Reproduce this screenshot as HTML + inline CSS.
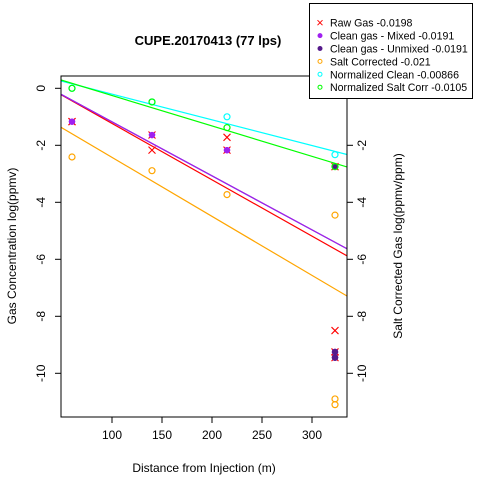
<!DOCTYPE html>
<html><head><meta charset="utf-8"><style>
body{margin:0;background:#fff}
svg{display:block;font-family:"Liberation Sans",Arial,sans-serif}
</style></head><body>
<svg id="c" width="480" height="480"></svg>
<script>
const distances=[60,60,140,140,215,215,323,323,323,323];
const rawGas=[-1.17,-1.17,-1.64,-2.17,-1.72,-2.17,-2.75,-8.5,-9.25,-9.45];
const cleanMixed=[-1.17,-1.17,-1.64,-1.64,-2.17,-2.17,-2.75,-9.25,-9.25,-9.45];
const cleanUnmixed=[-1.17,-1.17,-1.64,-1.64,-2.17,-2.17,-2.75,-9.25,-9.45,-9.45];
const saltDist=[60,140,215,323,323,323];
const saltCorrected=[-2.41,-2.89,-3.73,-4.45,-10.9,-11.1];
const normDist=[60,140,215,323];
const normClean=[0.0,-0.48,-1.0,-2.33];
const normSalt=[0.0,-0.48,-1.38,-2.75];
const fitIntercepts=[0.744,0.718,0.718,-0.354,0.698,0.814];
const fitSlopes=[-0.01977,-0.01895,-0.01895,-0.0207,-0.00902,-0.01067];
const xTicks=[100,150,200,250,300];
const yTicks=[0,-2,-4,-6,-8,-10];
const yTicksRight=[-2,-4,-6,-8,-10];
const legendLabels=["Raw Gas -0.0198","Clean gas - Mixed -0.0191","Clean gas - Unmixed -0.0191","Salt Corrected -0.021","Normalized Clean -0.00866","Normalized Salt Corr -0.0105"];
const colors=["#ff0000","#a020f0","#551a8b","#ffa500","#00ffff","#00ff00"];

const L=61,R=347,T=76,B=417;
const xs=v=>12+v;
const ys=v=>88.3-28.5*v;
const svg=document.getElementById('c');
const NS="http://www.w3.org/2000/svg";
function mk(t,a,p){const e=document.createElementNS(NS,t);for(const k in a)e.setAttribute(k,a[k]);(p||svg).appendChild(e);return e;}
function txt(s,a){const e=mk('text',a);e.textContent=s;return e;}

const clip=mk('clipPath',{id:'pc'});mk('rect',{x:L,y:T,width:R-L,height:B-T},clip);

const gl=mk('g',{'clip-path':'url(#pc)'});

[0,2,1,3,4,5].forEach(i=>{
  const a=fitIntercepts[i];
  const x0=49,x1=335;
  const l=mk('line',{x1:xs(x0),y1:ys(a+fitSlopes[i]*x0),x2:xs(x1),y2:ys(a+fitSlopes[i]*x1),stroke:colors[i],'stroke-width':1.2},gl);
  
  
});

function cross(x,y,c,name){const g=mk('g',{stroke:c,'stroke-width':1.1});
  
  mk('line',{x1:x-3.5,y1:y-3.5,x2:x+3.5,y2:y+3.5},g);mk('line',{x1:x-3.5,y1:y+3.5,x2:x+3.5,y2:y-3.5},g);}
function dot(x,y,c,name){const e=mk('circle',{cx:x,cy:y,r:3.2,fill:c});}
function ring(x,y,c,name){const e=mk('circle',{cx:x,cy:y,r:3,fill:'none',stroke:c,'stroke-width':1.2});}

distances.forEach((d,i)=>cross(xs(d),ys(rawGas[i]),colors[0],'raw-gas-point'));
distances.forEach((d,i)=>dot(xs(d),ys(cleanMixed[i]),colors[1],'clean-mixed-point'));
distances.forEach((d,i)=>{if(d>300)dot(xs(d),ys(cleanUnmixed[i]),colors[2],'clean-unmixed-point');});
saltDist.forEach((d,i)=>ring(xs(d),ys(saltCorrected[i]),colors[3],'salt-corrected-point'));
normDist.forEach((d,i)=>ring(xs(d),ys(normClean[i]),colors[4],'normalized-clean-point'));
normDist.forEach((d,i)=>ring(xs(d),ys(normSalt[i]),colors[5],'normalized-salt-point'));

const box=mk('rect',{x:L,y:T,width:R-L,height:B-T,fill:'none',stroke:'#000','stroke-width':1});


xTicks.forEach(v=>{mk('line',{x1:xs(v),y1:B,x2:xs(v),y2:B+6,stroke:'#000'});
  const t=txt(v,{x:xs(v),y:B+22,'font-size':12,'text-anchor':'middle'});
  });
yTicks.forEach(v=>{mk('line',{x1:L-6,y1:ys(v),x2:L,y2:ys(v),stroke:'#000'});
  const t=txt(v,{x:45,y:ys(v),'font-size':12,'text-anchor':'middle',transform:`rotate(-90 45 ${ys(v)})`});
  });
yTicksRight.forEach(v=>{mk('line',{x1:R,y1:ys(v),x2:R+6,y2:ys(v),stroke:'#000'});
  const t=txt(v,{x:366,y:ys(v),'font-size':12,'text-anchor':'middle',transform:`rotate(-90 366 ${ys(v)})`});
  });

let t=txt('CUPE.20170413 (77 lps)',{x:208,y:45,'font-size':13,'font-weight':'bold','text-anchor':'middle'});

t=txt('Distance from Injection (m)',{x:204,y:472,'font-size':12,'text-anchor':'middle'});

t=txt('Gas Concentration log(ppmv)',{x:16,y:246,'font-size':12,'text-anchor':'middle',transform:'rotate(-90 16 246)'});

t=txt('Salt Corrected Gas log(ppmv/ppm)',{x:402,y:246,'font-size':12,'text-anchor':'middle',transform:'rotate(-90 402 246)'});


const lg=mk('g',{});

mk('rect',{x:309.5,y:3.5,width:163,height:95,fill:'#fff',stroke:'#000'},lg);
legendLabels.forEach((s,i)=>{
  const y=22.7+12.9*i;
  const g=mk('g',{},lg);
  
  if(i==0){mk('line',{x1:317.5,y1:y-2.5,x2:322.5,y2:y+2.5,stroke:colors[0]},g);mk('line',{x1:317.5,y1:y+2.5,x2:322.5,y2:y-2.5,stroke:colors[0]},g);}
  else if(i<3)mk('circle',{cx:320,cy:y,r:2.5,fill:colors[i]},g);
  else mk('circle',{cx:320,cy:y,r:2,fill:'none',stroke:colors[i],'stroke-width':1},g);
  const e=document.createElementNS(NS,'text');e.setAttribute('x',330);e.setAttribute('y',y+4);e.setAttribute('font-size',10.6);e.textContent=s;g.appendChild(e);
});
</script>
</body></html>
